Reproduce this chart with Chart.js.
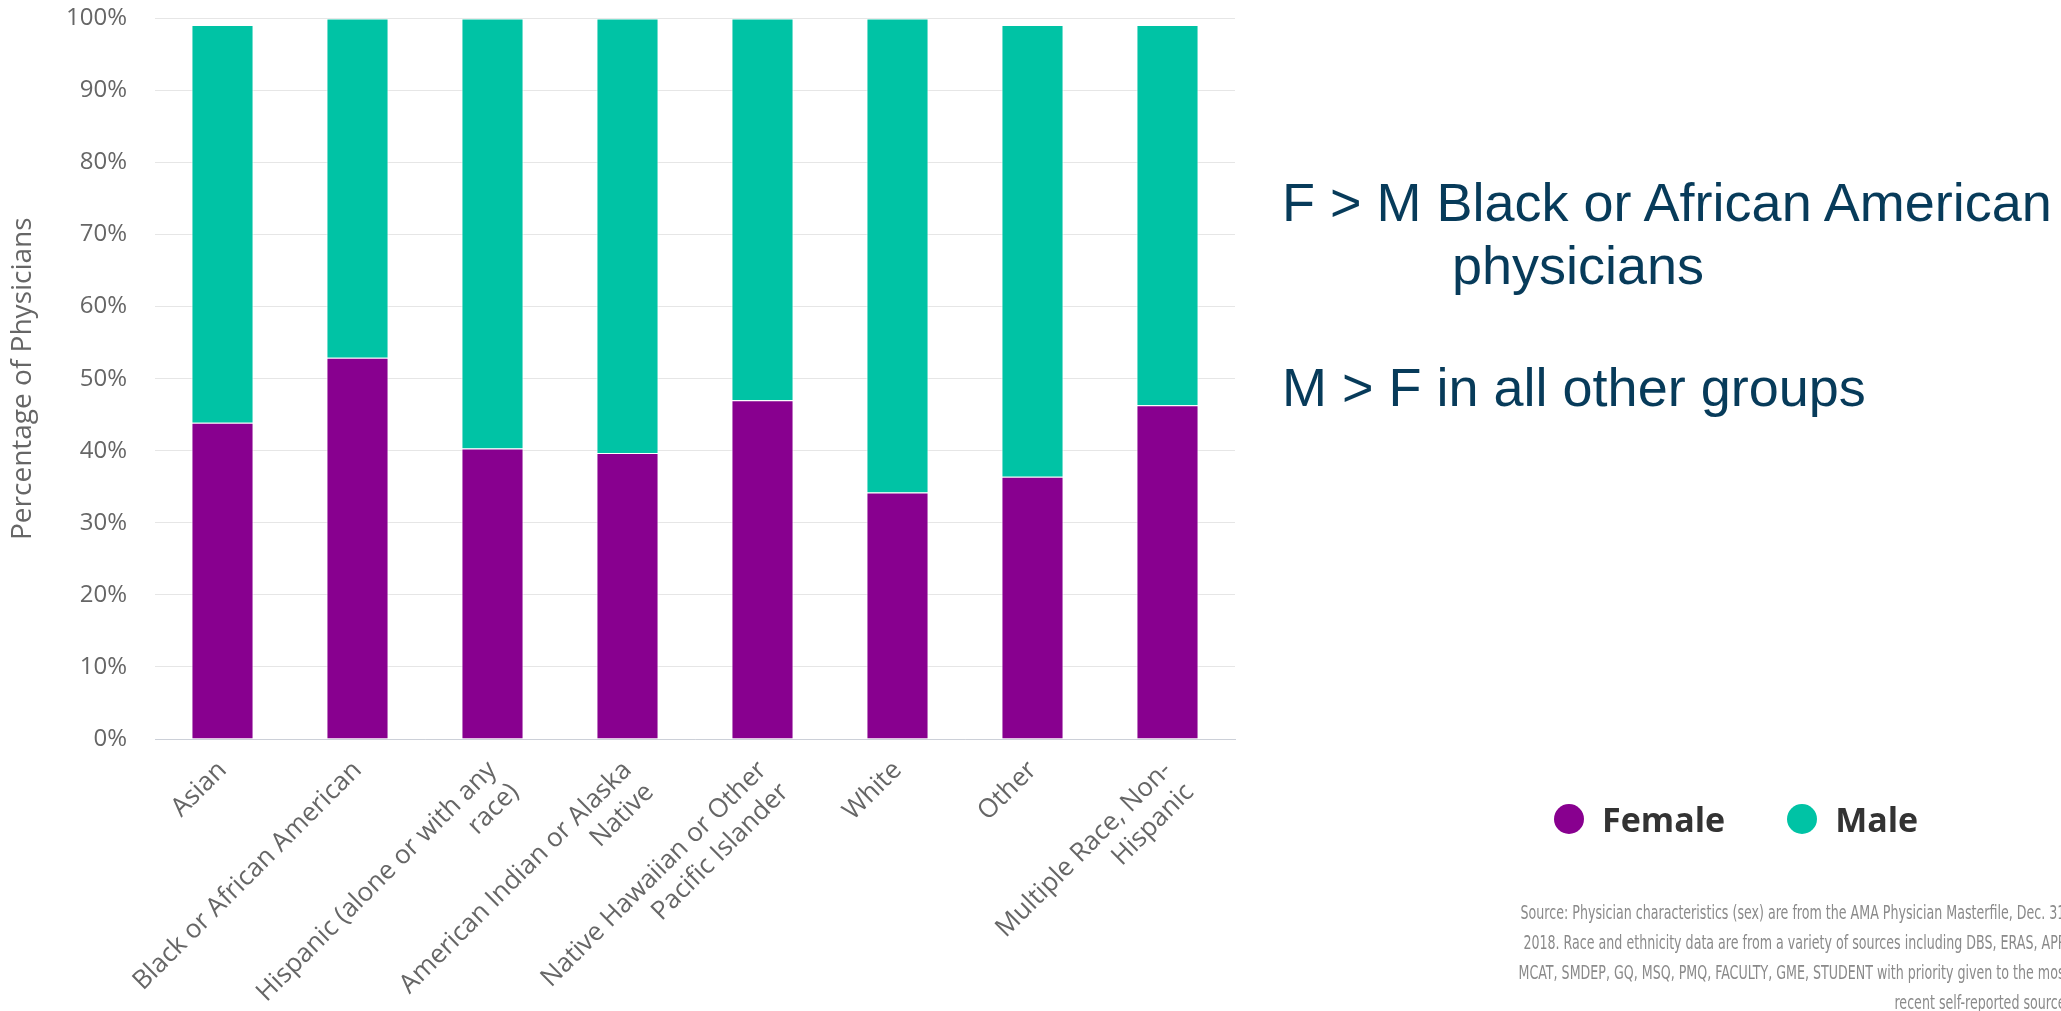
<!DOCTYPE html>
<html>
<head>
<meta charset="utf-8">
<script src="https://cdn.jsdelivr.net/npm/chart.js@4"></script>
<style>
  html, body { margin: 0; padding: 0; background: #ffffff; }
  #wrap { position: relative; width: 2061px; height: 1011px; overflow: hidden; }
  #c { position: absolute; left: 0; top: -24px; }
  .note { position: absolute; font-family: "Liberation Sans", Arial, sans-serif; font-size: 54px; line-height: 54px; color: #073b5a; white-space: nowrap; }
  #legend { position: absolute; left: 1554px; top: 796px; display: flex; align-items: center; font-family: "Open Sans", sans-serif; font-weight: bold; font-size: 34px; color: #333333; white-space: nowrap; }
  #legend .item { display: flex; align-items: center; margin-right: 62px; }
  #legend .dot { width: 30px; height: 30px; border-radius: 50%; margin-right: 18px; }
  #source { position: absolute; right: -8px; top: 897px; font-family: "DejaVu Sans Condensed", "DejaVu Sans", sans-serif; font-size: 19px; line-height: 30px; color: #8a8a8a; text-align: right; white-space: nowrap; transform: scaleX(0.74); transform-origin: right top; }
</style>
</head>
<body>
<div id="wrap">
  <canvas id="c" width="2061" height="1035"></canvas>
  <div class="note" style="left:1282px; top:175px;">F &gt; M Black or African American</div>
  <div class="note" style="left:1452px; top:238px;">physicians</div>
  <div class="note" style="left:1282px; top:360px;">M &gt; F in all other groups</div>
  <div id="legend"></div>
  <div id="source">Source: Physician characteristics (sex) are from the AMA Physician Masterfile, Dec. 31,<br>2018. Race and ethnicity data are from a variety of sources including DBS, ERAS, APP,<br>MCAT, SMDEP, GQ, MSQ, PMQ, FACULTY, GME, STUDENT with priority given to the most<br>recent self-reported source.</div>
</div>
<script>
// ---- Data ----
const categories = [
  "Asian",
  "Black or African American",
  ["Hispanic (alone or with any", "race)"],
  ["American Indian or Alaska", "Native"],
  ["Native Hawaiian or Other", "Pacific Islander"],
  "White",
  "Other",
  ["Multiple Race, Non-", "Hispanic"]
];
const seriesNames = ["Female", "Male"];
const femaleValues = [43.9, 52.9, 40.3, 39.7, 47.0, 34.2, 36.4, 46.3];
const maleValues   = [55.2, 47.1, 59.7, 60.3, 53.0, 65.8, 62.7, 52.8];
const yTickValues = [0, 10, 20, 30, 40, 50, 60, 70, 80, 90, 100];
const yAxisTitle = "Percentage of Physicians";

const seriesColors = ["#88008f", "#00c3a5"];

// ---- Legend (HTML) ----
const legendEl = document.getElementById("legend");
seriesNames.forEach((name, i) => {
  const item = document.createElement("div");
  item.className = "item";
  const dot = document.createElement("span");
  dot.className = "dot";
  dot.style.background = seriesColors[i];
  const txt = document.createElement("span");
  txt.textContent = name;
  item.appendChild(dot);
  item.appendChild(txt);
  legendEl.appendChild(item);
});

// ---- Chart ----
const CANVAS_SHIFT = 24;          // canvas is moved up by this many pixels
const PLOT_LEFT = 155;
const PLOT_RIGHT = 1235;
const PLOT_BOTTOM = 739 + CANVAS_SHIFT;
const CANVAS_W = 2061;
const CANVAS_H = 1011 + CANVAS_SHIFT;

new Chart(document.getElementById("c"), {
  type: "bar",
  data: {
    labels: categories,
    datasets: [
      { label: seriesNames[0], data: femaleValues, backgroundColor: seriesColors[0], borderColor: "rgba(255,255,255,0.9)", borderWidth: 1 },
      { label: seriesNames[1], data: maleValues, backgroundColor: seriesColors[1], borderColor: "rgba(255,255,255,0.9)", borderWidth: 1 }
    ]
  },
  options: {
    responsive: false,
    animation: false,
    layout: { padding: { left: 0, right: CANVAS_W - PLOT_RIGHT, top: 0, bottom: 0 } },
    plugins: { legend: { display: false }, tooltip: { enabled: false } },
    datasets: { bar: { categoryPercentage: 1.0, barPercentage: 0.46 } },
    scales: {
      x: {
        stacked: true,
        grid: { display: false },
        border: { display: true, color: "#ccd0d8", width: 1 },
        ticks: {
          autoSkip: false,
          minRotation: 45,
          maxRotation: 45,
          padding: 8,
          color: "#666666",
          font: { family: "'Open Sans', sans-serif", size: 26 }
        },
        afterFit: (s) => { s.height = CANVAS_H - PLOT_BOTTOM; }
      },
      y: {
        stacked: true,
        min: 0,
        max: 100,
        afterBuildTicks: (s) => { s.ticks = yTickValues.map(v => ({ value: v })); },
        grid: { color: "#e6e6e6", lineWidth: 1, drawTicks: false },
        border: { display: false },
        ticks: {
          padding: 28,
          color: "#666666",
          font: { family: "'Open Sans', sans-serif", size: 24 },
          callback: (v) => v + "%"
        },
        title: {
          display: true,
          text: yAxisTitle,
          color: "#666666",
          padding: { top: 6, bottom: 0 },
          font: { family: "'Open Sans', sans-serif", size: 28 }
        },
        afterFit: (s) => { s.width = PLOT_LEFT; }
      }
    }
  }
});
</script>
</body>
</html>
